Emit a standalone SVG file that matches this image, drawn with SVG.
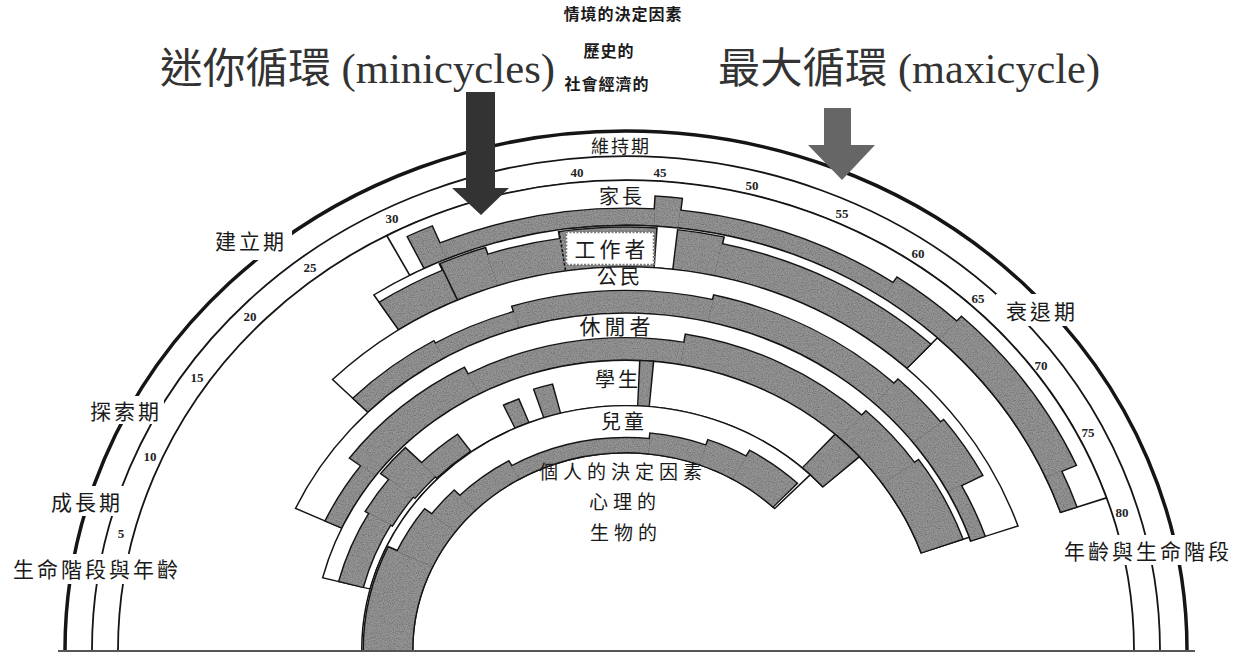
<svg xmlns="http://www.w3.org/2000/svg" width="1240" height="653" viewBox="0 0 1240 653">
<style>
.arc{fill:none;stroke:#151515}
.bb{fill:none;stroke:#151515}
.bw{fill:none;stroke:#fff}
.sg{fill:none;stroke:#959595}
.cjk{font-family:"Noto Sans CJK TC","Noto Sans CJK SC",sans-serif;fill:#1a1a1a}
.stage{font-size:21px;letter-spacing:3px}
.role{font-size:20px;letter-spacing:3px}
.top{font-size:16px;font-weight:bold;letter-spacing:1px}
.ctr{font-size:19px;letter-spacing:5px}
.num{font-family:"Liberation Serif",serif;font-size:13px;font-weight:bold;fill:#222}
.big{font-family:"Liberation Serif","Noto Sans CJK TC",serif;font-size:42px;fill:#333}
</style>
<defs>
<filter id="grain" filterUnits="userSpaceOnUse" x="-620" y="-580" width="1240" height="600">
<feTurbulence type="fractalNoise" baseFrequency="0.8" numOctaves="2" seed="7" result="n"/>
<feColorMatrix in="n" type="matrix" values="0 0 0 0 0.15  0 0 0 0 0.15  0 0 0 0 0.15  2.2 0 0 0 -0.85" result="d"/>
<feComposite in="d" in2="SourceGraphic" operator="in" result="m"/>
<feMerge><feMergeNode in="SourceGraphic"/><feMergeNode in="m"/></feMerge>
</filter>
</defs>
<rect width="1240" height="653" fill="#fff"/>

<!-- age / life-stage arcs -->
<g id="age-arcs" transform="translate(626 650) scale(1 0.925)">
<path class="arc" stroke-width="3.5" vector-effect="non-scaling-stroke" d="M-561 0A561 561 0 0 1 561 0"/>
<path class="arc" stroke-width="1.8" vector-effect="non-scaling-stroke" d="M-534 0A534 534 0 0 1 534 0"/>
<path class="arc" stroke-width="1.8" vector-effect="non-scaling-stroke" d="M-508 0A508 508 0 0 1 508 0"/>
</g>
<g id="label-gaps" fill="#fff">
<rect x="208" y="226" width="84" height="34"/>
<rect x="84" y="396" width="80" height="28"/>
<rect x="45" y="486" width="82" height="30"/>
<rect x="6" y="554" width="178" height="30"/>
<rect x="996" y="294" width="90" height="32"/>
<rect x="1056" y="535" width="182" height="30"/>
</g>

<!-- homemaker -->
<g id="role-homemaker">
<g transform="translate(626 650) scale(1 0.925)">
<path class="bb" pathLength="180" stroke-width="50" stroke-dasharray="0 61.8 99.4 400" d="M-483.5 0A483.5 483.5 0 0 1 483.5 0"/>
<path class="bw" pathLength="180" stroke-width="47" stroke-dasharray="0 62 99 400" d="M-483.5 0A483.5 483.5 0 0 1 483.5 0"/>
<path class="bb" pathLength="180" stroke-width="40" stroke-dasharray="0 63.82 3.36 400" d="M-478.5 0A478.5 478.5 0 0 1 478.5 0"/>
<path class="bb" pathLength="180" stroke-width="20" stroke-dasharray="0 66.82 26.86 400" d="M-468.5 0A468.5 468.5 0 0 1 468.5 0"/>
<path class="bb" pathLength="180" stroke-width="34" stroke-dasharray="0 93.32 3.36 400" d="M-475.5 0A475.5 475.5 0 0 1 475.5 0"/>
<path class="bb" pathLength="180" stroke-width="21" stroke-dasharray="0 96.32 27.86 400" d="M-469 0A469 469 0 0 1 469 0"/>
<path class="bb" pathLength="180" stroke-width="28" stroke-dasharray="0 123.82 9.36 400" d="M-472.5 0A472.5 472.5 0 0 1 472.5 0"/>
<path class="bb" pathLength="180" stroke-width="35" stroke-dasharray="0 132.82 23.36 400" d="M-476 0A476 476 0 0 1 476 0"/>
<path class="bb" pathLength="180" stroke-width="19" stroke-dasharray="0 155.82 5.36 400" d="M-468 0A468 468 0 0 1 468 0"/>
<g filter="url(#grain)">
<path class="sg" pathLength="180" stroke-width="37" stroke-dasharray="0 64 3 400" d="M-478.5 0A478.5 478.5 0 0 1 478.5 0"/>
<path class="sg" pathLength="180" stroke-width="17" stroke-dasharray="0 67 26.5 400" d="M-468.5 0A468.5 468.5 0 0 1 468.5 0"/>
<path class="sg" pathLength="180" stroke-width="31" stroke-dasharray="0 93.5 3 400" d="M-475.5 0A475.5 475.5 0 0 1 475.5 0"/>
<path class="sg" pathLength="180" stroke-width="18" stroke-dasharray="0 96.5 27.5 400" d="M-469 0A469 469 0 0 1 469 0"/>
<path class="sg" pathLength="180" stroke-width="25" stroke-dasharray="0 124 9 400" d="M-472.5 0A472.5 472.5 0 0 1 472.5 0"/>
<path class="sg" pathLength="180" stroke-width="32" stroke-dasharray="0 133 23 400" d="M-476 0A476 476 0 0 1 476 0"/>
<path class="sg" pathLength="180" stroke-width="16" stroke-dasharray="0 156 5 400" d="M-468 0A468 468 0 0 1 468 0"/>
</g>
</g>
<text class="cjk role" x="622" y="195" text-anchor="middle" dominant-baseline="central">家長</text>
</g>

<!-- worker -->
<g id="role-worker">
<g transform="translate(626 650) scale(1 0.925)">
<path class="bb" pathLength="180" stroke-width="46.5" stroke-dasharray="0 56.6 76.2 400" d="M-436.75 0A436.75 436.75 0 0 1 436.75 0"/>
<path class="bw" pathLength="180" stroke-width="43.5" stroke-dasharray="0 56.8 75.8 400" d="M-436.75 0A436.75 436.75 0 0 1 436.75 0"/>
<path class="bb" pathLength="180" stroke-width="37" stroke-dasharray="0 56.6 9.6 400" d="M-432 0A432 432 0 0 1 432 0"/>
<path class="bb" pathLength="180" stroke-width="44.5" stroke-dasharray="0 65.8 6.4 400" d="M-435.75 0A435.75 435.75 0 0 1 435.75 0"/>
<path class="bb" pathLength="180" stroke-width="37" stroke-dasharray="0 71.8 10 400" d="M-432 0A432 432 0 0 1 432 0"/>
<path class="bb" pathLength="180" stroke-width="44.5" stroke-dasharray="0 81.4 12.6 400" d="M-435.75 0A435.75 435.75 0 0 1 435.75 0"/>
<path class="bb" pathLength="180" stroke-width="44.5" stroke-dasharray="0 96.4 6.1 400" d="M-435.75 0A435.75 435.75 0 0 1 435.75 0"/>
<path class="bb" pathLength="180" stroke-width="37" stroke-dasharray="0 102.1 30.7 400" d="M-432 0A432 432 0 0 1 432 0"/>
<g filter="url(#grain)">
<path class="sg" pathLength="180" stroke-width="34" stroke-dasharray="0 56.8 9.2 400" d="M-432 0A432 432 0 0 1 432 0"/>
<path class="sg" pathLength="180" stroke-width="41.5" stroke-dasharray="0 66 6 400" d="M-435.75 0A435.75 435.75 0 0 1 435.75 0"/>
<path class="sg" pathLength="180" stroke-width="34" stroke-dasharray="0 72 9.6 400" d="M-432 0A432 432 0 0 1 432 0"/>
<path class="sg" pathLength="180" stroke-width="41.5" stroke-dasharray="0 81.6 12.2 400" d="M-435.75 0A435.75 435.75 0 0 1 435.75 0"/>
<path class="sg" pathLength="180" stroke-width="41.5" stroke-dasharray="0 96.6 5.7 400" d="M-435.75 0A435.75 435.75 0 0 1 435.75 0"/>
<path class="sg" pathLength="180" stroke-width="34" stroke-dasharray="0 102.3 30.3 400" d="M-432 0A432 432 0 0 1 432 0"/>
</g>
<path fill="none" stroke="#151515" stroke-width="1.6" d="M-168.8 -379.1L-186.3 -418.4"/>
<path fill="none" stroke="#151515" stroke-width="1.6" stroke-dasharray="3 2" d="M-60.6 -410.6L-66.8 -452.1"/>
</g>
<rect x="566" y="232" width="88" height="33" fill="#fff" stroke="#7a7a7a" stroke-width="2.5" stroke-dasharray="2 1.5"/>
<text class="cjk role" x="612" y="248" text-anchor="middle" dominant-baseline="central" style="font-size:21px;letter-spacing:4px">工作者</text>
</g>

<!-- citizen -->
<g id="role-citizen">
<g transform="translate(626 650) scale(1 0.925)">
<path class="bb" pathLength="180" stroke-width="51.5" stroke-dasharray="0 44.78 116.44 400" d="M-389.25 0A389.25 389.25 0 0 1 389.25 0"/>
<path class="bw" pathLength="180" stroke-width="48.5" stroke-dasharray="0 45 116 400" d="M-389.25 0A389.25 389.25 0 0 1 389.25 0"/>
<path class="bb" pathLength="180" stroke-width="23" stroke-dasharray="0 44.77 15.46 400" d="M-375 0A375 375 0 0 1 375 0"/>
<path class="bb" pathLength="180" stroke-width="20" stroke-dasharray="0 59.77 13.46 400" d="M-373.5 0A373.5 373.5 0 0 1 373.5 0"/>
<path class="bb" pathLength="180" stroke-width="26" stroke-dasharray="0 72.77 30.46 400" d="M-376.5 0A376.5 376.5 0 0 1 376.5 0"/>
<path class="bb" pathLength="180" stroke-width="31" stroke-dasharray="0 102.77 30.46 400" d="M-379 0A379 379 0 0 1 379 0"/>
<path class="bb" pathLength="180" stroke-width="37" stroke-dasharray="0 132.77 9.46 400" d="M-382 0A382 382 0 0 1 382 0"/>
<path class="bb" pathLength="180" stroke-width="41" stroke-dasharray="0 141.77 10.46 400" d="M-384 0A384 384 0 0 1 384 0"/>
<path class="bb" pathLength="180" stroke-width="17" stroke-dasharray="0 151.77 9.46 400" d="M-372 0A372 372 0 0 1 372 0"/>
<g filter="url(#grain)">
<path class="sg" pathLength="180" stroke-width="20" stroke-dasharray="0 45 15 400" d="M-375 0A375 375 0 0 1 375 0"/>
<path class="sg" pathLength="180" stroke-width="17" stroke-dasharray="0 60 13 400" d="M-373.5 0A373.5 373.5 0 0 1 373.5 0"/>
<path class="sg" pathLength="180" stroke-width="23" stroke-dasharray="0 73 30 400" d="M-376.5 0A376.5 376.5 0 0 1 376.5 0"/>
<path class="sg" pathLength="180" stroke-width="28" stroke-dasharray="0 103 30 400" d="M-379 0A379 379 0 0 1 379 0"/>
<path class="sg" pathLength="180" stroke-width="34" stroke-dasharray="0 133 9 400" d="M-382 0A382 382 0 0 1 382 0"/>
<path class="sg" pathLength="180" stroke-width="38" stroke-dasharray="0 142 10 400" d="M-384 0A384 384 0 0 1 384 0"/>
<path class="sg" pathLength="180" stroke-width="14" stroke-dasharray="0 152 9 400" d="M-372 0A372 372 0 0 1 372 0"/>
</g>
</g>
<text class="cjk role" x="620" y="275" text-anchor="middle" dominant-baseline="central">公民</text>
</g>

<!-- leisurite -->
<g id="role-leisurite">
<g transform="translate(626 650) scale(1 0.925)">
<path class="bb" pathLength="180" stroke-width="52.5" stroke-dasharray="0 24.75 135.8 400" d="M-338.75 0A338.75 338.75 0 0 1 338.75 0"/>
<path class="bw" pathLength="180" stroke-width="49.5" stroke-dasharray="0 25 135.3 400" d="M-338.75 0A338.75 338.75 0 0 1 338.75 0"/>
<path class="bb" pathLength="180" stroke-width="20" stroke-dasharray="0 24.74 12.52 400" d="M-322.5 0A322.5 322.5 0 0 1 322.5 0"/>
<path class="bb" pathLength="180" stroke-width="34" stroke-dasharray="0 36.74 25.52 400" d="M-329.5 0A329.5 329.5 0 0 1 329.5 0"/>
<path class="bb" pathLength="180" stroke-width="26" stroke-dasharray="0 61.74 38.52 400" d="M-325.5 0A325.5 325.5 0 0 1 325.5 0"/>
<path class="bb" pathLength="180" stroke-width="35" stroke-dasharray="0 99.74 33.52 400" d="M-330 0A330 330 0 0 1 330 0"/>
<path class="bb" pathLength="180" stroke-width="41" stroke-dasharray="0 132.74 12.52 400" d="M-333 0A333 333 0 0 1 333 0"/>
<path class="bb" pathLength="180" stroke-width="46" stroke-dasharray="0 144.74 15.82 400" d="M-335.5 0A335.5 335.5 0 0 1 335.5 0"/>
<g filter="url(#grain)">
<path class="sg" pathLength="180" stroke-width="17" stroke-dasharray="0 25 12 400" d="M-322.5 0A322.5 322.5 0 0 1 322.5 0"/>
<path class="sg" pathLength="180" stroke-width="31" stroke-dasharray="0 37 25 400" d="M-329.5 0A329.5 329.5 0 0 1 329.5 0"/>
<path class="sg" pathLength="180" stroke-width="23" stroke-dasharray="0 62 38 400" d="M-325.5 0A325.5 325.5 0 0 1 325.5 0"/>
<path class="sg" pathLength="180" stroke-width="32" stroke-dasharray="0 100 33 400" d="M-330 0A330 330 0 0 1 330 0"/>
<path class="sg" pathLength="180" stroke-width="38" stroke-dasharray="0 133 12 400" d="M-333 0A333 333 0 0 1 333 0"/>
<path class="sg" pathLength="180" stroke-width="43" stroke-dasharray="0 145 15.3 400" d="M-335.5 0A335.5 335.5 0 0 1 335.5 0"/>
</g>
</g>
<text class="cjk role" x="617" y="325" text-anchor="middle" dominant-baseline="central" style="font-size:21px;letter-spacing:4px">休閒者</text>
</g>

<!-- student -->
<g id="role-student">
<g transform="translate(626 650) scale(1 0.925)">
<path class="bb" pathLength="180" stroke-width="50.5" stroke-dasharray="0 14.3 124 400" d="M-288.75 0A288.75 288.75 0 0 1 288.75 0"/>
<path class="bw" pathLength="180" stroke-width="47.5" stroke-dasharray="0 14.6 123.4 400" d="M-288.75 0A288.75 288.75 0 0 1 288.75 0"/>
<path class="bb" pathLength="180" stroke-width="27" stroke-dasharray="0 14.3 16 400" d="M-284 0A284 284 0 0 1 284 0"/>
<path class="bb" pathLength="180" stroke-width="33" stroke-dasharray="0 29.7 8.6 400" d="M-285 0A285 285 0 0 1 285 0"/>
<path class="bb" pathLength="180" stroke-width="45" stroke-dasharray="0 37.7 7.2 400" d="M-289 0A289 289 0 0 1 289 0"/>
<path class="bb" pathLength="180" stroke-width="24" stroke-dasharray="0 44.3 10 400" d="M-276.5 0A276.5 276.5 0 0 1 276.5 0"/>
<path class="bb" pathLength="180" stroke-width="29" stroke-dasharray="0 65 3.6 400" d="M-278 0A278 278 0 0 1 278 0"/>
<path class="bb" pathLength="180" stroke-width="34" stroke-dasharray="0 71.7 4.1 400" d="M-280.5 0A280.5 280.5 0 0 1 280.5 0"/>
<path class="bb" pathLength="180" stroke-width="50.5" stroke-dasharray="0 92.4 2.8 400" d="M-288.75 0A288.75 288.75 0 0 1 288.75 0"/>
<path class="bb" pathLength="180" stroke-width="50.5" stroke-dasharray="0 131.7 6.6 400" d="M-288.75 0A288.75 288.75 0 0 1 288.75 0"/>
<g filter="url(#grain)">
<path class="sg" pathLength="180" stroke-width="24" stroke-dasharray="0 14.6 15.4 400" d="M-284 0A284 284 0 0 1 284 0"/>
<path class="sg" pathLength="180" stroke-width="30" stroke-dasharray="0 30 8 400" d="M-285 0A285 285 0 0 1 285 0"/>
<path class="sg" pathLength="180" stroke-width="42" stroke-dasharray="0 38 6.6 400" d="M-289 0A289 289 0 0 1 289 0"/>
<path class="sg" pathLength="180" stroke-width="21" stroke-dasharray="0 44.6 9.4 400" d="M-276.5 0A276.5 276.5 0 0 1 276.5 0"/>
<path class="sg" pathLength="180" stroke-width="26" stroke-dasharray="0 65.3 3 400" d="M-278 0A278 278 0 0 1 278 0"/>
<path class="sg" pathLength="180" stroke-width="31" stroke-dasharray="0 72 3.5 400" d="M-280.5 0A280.5 280.5 0 0 1 280.5 0"/>
<path class="sg" pathLength="180" stroke-width="47.5" stroke-dasharray="0 92.7 2.2 400" d="M-288.75 0A288.75 288.75 0 0 1 288.75 0"/>
<path class="sg" pathLength="180" stroke-width="47.5" stroke-dasharray="0 132 6 400" d="M-288.75 0A288.75 288.75 0 0 1 288.75 0"/>
</g>
</g>
<text class="cjk role" x="618" y="378" text-anchor="middle" dominant-baseline="central">學生</text>
</g>

<!-- child -->
<g id="role-child">
<g transform="translate(626 650) scale(1 0.925)">
<path class="bb" pathLength="180" stroke-width="52.5" stroke-dasharray="134.4 400" d="M-238.75 0A238.75 238.75 0 0 1 238.75 0"/>
<path class="bw" pathLength="180" stroke-width="49.5" stroke-dasharray="134 400" d="M-238.75 0A238.75 238.75 0 0 1 238.75 0"/>
<path class="bb" pathLength="180" stroke-width="51" stroke-dasharray="25.37 400" d="M-238 0A238 238 0 0 1 238 0"/>
<path class="bb" pathLength="180" stroke-width="41" stroke-dasharray="0 24.63 12.74 400" d="M-233 0A233 233 0 0 1 233 0"/>
<path class="bb" pathLength="180" stroke-width="32" stroke-dasharray="0 36.63 8.74 400" d="M-228.5 0A228.5 228.5 0 0 1 228.5 0"/>
<path class="bb" pathLength="180" stroke-width="24" stroke-dasharray="0 44.63 15.74 400" d="M-224.5 0A224.5 224.5 0 0 1 224.5 0"/>
<path class="bb" pathLength="180" stroke-width="18" stroke-dasharray="0 59.63 36.74 400" d="M-221.5 0A221.5 221.5 0 0 1 221.5 0"/>
<path class="bb" pathLength="180" stroke-width="24" stroke-dasharray="0 95.63 14.74 400" d="M-224.5 0A224.5 224.5 0 0 1 224.5 0"/>
<path class="bb" pathLength="180" stroke-width="30" stroke-dasharray="0 109.63 10.74 400" d="M-227.5 0A227.5 227.5 0 0 1 227.5 0"/>
<path class="bb" pathLength="180" stroke-width="37" stroke-dasharray="0 119.63 14.14 400" d="M-231 0A231 231 0 0 1 231 0"/>
<g filter="url(#grain)">
<path class="sg" pathLength="180" stroke-width="48" stroke-dasharray="25 400" d="M-238 0A238 238 0 0 1 238 0"/>
<path class="sg" pathLength="180" stroke-width="38" stroke-dasharray="0 25 12 400" d="M-233 0A233 233 0 0 1 233 0"/>
<path class="sg" pathLength="180" stroke-width="29" stroke-dasharray="0 37 8 400" d="M-228.5 0A228.5 228.5 0 0 1 228.5 0"/>
<path class="sg" pathLength="180" stroke-width="21" stroke-dasharray="0 45 15 400" d="M-224.5 0A224.5 224.5 0 0 1 224.5 0"/>
<path class="sg" pathLength="180" stroke-width="15" stroke-dasharray="0 60 36 400" d="M-221.5 0A221.5 221.5 0 0 1 221.5 0"/>
<path class="sg" pathLength="180" stroke-width="21" stroke-dasharray="0 96 14 400" d="M-224.5 0A224.5 224.5 0 0 1 224.5 0"/>
<path class="sg" pathLength="180" stroke-width="27" stroke-dasharray="0 110 10 400" d="M-227.5 0A227.5 227.5 0 0 1 227.5 0"/>
<path class="sg" pathLength="180" stroke-width="34" stroke-dasharray="0 120 13.4 400" d="M-231 0A231 231 0 0 1 231 0"/>
</g>
</g>
<text class="cjk role" x="624" y="420" text-anchor="middle" dominant-baseline="central">兒童</text>
</g>

<!-- stage labels -->
<g id="stages" class="cjk stage" text-anchor="middle" dominant-baseline="central">
<text x="251" y="240">建立期</text>
<text x="126" y="410">探索期</text>
<text x="87" y="501">成長期</text>
<text x="97" y="568">生命階段與年齡</text>
<text x="621" y="145" style="font-size:18px;letter-spacing:2px">維持期</text>
<text x="1042" y="310">衰退期</text>
<text x="1148" y="550">年齡與生命階段</text>
</g>

<!-- age numbers -->
<g id="ages" class="num" text-anchor="middle" dominant-baseline="central">
<text x="121" y="533">5</text>
<text x="150" y="456">10</text>
<text x="197" y="377">15</text>
<text x="250" y="316">20</text>
<text x="310" y="267">25</text>
<text x="392" y="218">30</text>
<text x="577" y="172">40</text>
<text x="660" y="172">45</text>
<text x="752" y="185">50</text>
<text x="842" y="213">55</text>
<text x="918" y="253">60</text>
<text x="978" y="298">65</text>
<text x="1041" y="365">70</text>
<text x="1088" y="432">75</text>
<text x="1122" y="512">80</text>
</g>

<!-- determinants -->
<g id="personal" class="cjk ctr" text-anchor="middle" dominant-baseline="central">
<text x="623" y="470">個人的決定因素</text>
<text x="625" y="500">心理的</text>
<text x="626" y="531">生物的</text>
</g>
<g id="situational" class="cjk top" text-anchor="middle" dominant-baseline="central">
<text x="623" y="13">情境的決定因素</text>
<text x="609" y="50">歷史的</text>
<text x="607" y="83">社會經濟的</text>
</g>

<!-- cycle labels and arrows -->
<g id="minicycles">
<text class="big" x="160" y="83" textLength="395" lengthAdjust="spacingAndGlyphs">迷你循環 (minicycles)</text>
</g>
<g id="maxicycle">
<text class="big" x="718" y="83" textLength="382" lengthAdjust="spacingAndGlyphs">最大循環 (maxicycle)</text>
</g>
<g id="connectors">
<polygon fill="#333" points="466,92 495,92 495,188 509,188 481,215 452,188 466,188"/>
<polygon fill="#666" points="824,108 851,108 851,145 875,145 842,180 808,145 824,145"/>
<line x1="58" y1="651" x2="1195" y2="651" stroke="#555" stroke-width="2"/>
</g>
</svg>
